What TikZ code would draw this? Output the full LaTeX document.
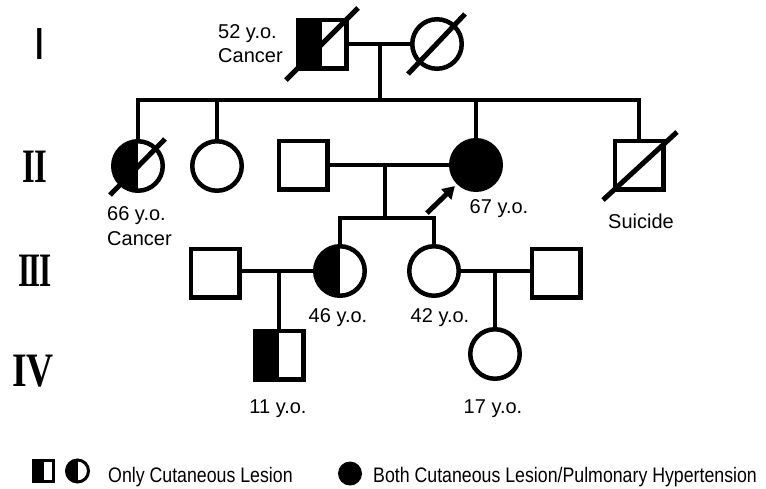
\documentclass[tikz,border=0pt]{standalone}
\usepackage{fontspec}
\setmainfont{Liberation Sans}
\newfontfamily\romanfont{Liberation Serif}
\usetikzlibrary{calc,arrows.meta}
\begin{document}
\begin{tikzpicture}[x=1pt,y=-1pt,
  male/.style={draw, rectangle, line width=4.5pt, minimum width=48.5pt, minimum height=48.5pt, inner sep=0pt},
  female/.style={draw, circle, line width=4.5pt, minimum size=49.5pt, inner sep=0pt},
  halfleft/.style={path picture={\fill[black] (path picture bounding box.south west) rectangle (path picture bounding box.north);}},
  full/.style={fill=black},
  link/.style={line width=4.5pt},
  slashline/.style={line width=5pt},
  lbl/.style={font=\fontsize{20pt}{24pt}\selectfont, inner sep=0pt},
  genserif/.style={inner sep=0pt, font=\fontsize{48pt}{48pt}\selectfont\romanfont\bfseries},
  legtext/.style={inner sep=0pt, anchor=base west, font=\fontsize{21pt}{24pt}\selectfont}
]
\useasboundingbox (0,0) rectangle (766,488);

% generation labels
\node[inner sep=0pt, font=\fontsize{45pt}{45pt}\selectfont] (gI) at (40,44) {I};
\node[genserif] (gII) at (35,167) {\scalebox{0.68}[1]{I\kern-2pt I}};
\node[genserif] (gIII) at (35,271) {\scalebox{0.65}[1]{I\kern-2pt I\kern-2pt I}};
\node[genserif] (gIV) at (33,371) {\scalebox{0.78}[1]{I\kern-2pt V}};

% generation I
\node[male, halfleft] (I1) at (322,44) {};
\node[female] (I2) at (437,44) {};
\draw[slashline] ($(I1.center)+(-36,36)$) -- ($(I1.center)+(36,-36)$);
\draw[slashline] ($(I2.center)+(-29,30)$) -- ($(I2.center)+(28,-30)$);
\draw[link] (I1.east) -- (I2.west);
\coordinate (m1) at (380,44);
\coordinate (s1) at (380,100);
\draw[link] (m1) -- (s1);
\node[lbl, anchor=base west] (t52) at (218,38) {52 y.o.};
\node[lbl, anchor=base west] (tc1) at (218,62) {Cancer};

% generation II
\node[female, halfleft] (II1) at (138,166) {};
\node[female] (II2) at (217,166) {};
\node[male] (II3) at (303,165) {};
\node[female, full] (II4) at (476,165) {};
\node[male] (II5) at (639,165) {};
\draw[slashline] ($(II1.center)+(-28,29)$) -- ($(II1.center)+(27,-27)$);
\draw[slashline] ($(II5.center)+(-36,35)$) -- ($(II5.center)+(38,-33)$);
\draw[link] (II1.north) -- (II1.north |- s1) -- (II5.north |- s1) -- (II5.north);
\draw[link] (II2.north |- s1) -- (II2.north);
\draw[link] (II4.north |- s1) -- (II4.north);
\draw[link] (II3.east) -- (II4.west);
\draw[line width=5pt, -{Triangle[width=14pt,length=12pt]}] ($(II4.south west)+(-30,29)$) -- ($(II4.south west)+(-2,2)$);
\node[lbl, anchor=base west] (t66) at (107,220) {66 y.o.};
\node[lbl, anchor=base west] (tc2) at (107,245) {Cancer};
\node[lbl, anchor=base] (t67) at (499,213) {67 y.o.};
\node[lbl, anchor=base] (tsu) at (641,228) {Suicide};
\coordinate (m2) at (385,165);
\coordinate (s2) at (385,218);
\draw[link] (m2) -- (s2);

% generation III
\node[male] (III1) at (215,273) {};
\node[female, halfleft] (III2) at (340,271) {};
\node[female] (III3) at (434,271) {};
\node[male] (III4) at (556,273) {};
\draw[link] (III2.north) -- (III2.north |- s2) -- (III3.north |- s2) -- (III3.north);
\draw[link] (III1.east |- III2.west) -- (III2.west);
\draw[link] (III3.east) -- (III4.west |- III3.east);
\node[lbl, anchor=base] (t46) at (338,322) {46 y.o.};
\node[lbl, anchor=base] (t42) at (440,322) {42 y.o.};

% generation IV
\node[male, halfleft] (IV1) at (279,355) {};
\node[female] (IV2) at (495,354) {};
\coordinate (m3) at (279,271);
\coordinate (m4) at (495,271);
\draw[link] (m3) -- (IV1.north);
\draw[link] (m4) -- (IV2.north);
\node[lbl, anchor=base] (t11) at (278,413) {11 y.o.};
\node[lbl, anchor=base] (t17) at (493,413) {17 y.o.};

% legend
\node[male, line width=3pt, minimum width=20pt, minimum height=21pt, halfleft] (Lsq) at (43.5,471) {};
\node[female, line width=3pt, minimum size=22pt, halfleft] (Lci) at (77.5,471) {};
\node[legtext] (Lt1) at (108,482) {\scalebox{0.845}[1]{Only Cutaneous Lesion}};
\node[circle, fill=black, minimum size=24pt, inner sep=0pt] (Lfull) at (350,473.5) {};
\node[legtext] (Lt2) at (373,482) {\scalebox{0.845}[1]{Both Cutaneous Lesion/Pulmonary Hypertension}};
\end{tikzpicture}
\end{document}
